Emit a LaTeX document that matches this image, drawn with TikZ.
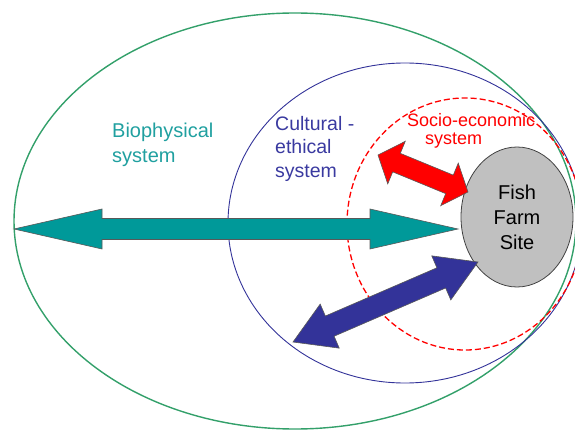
\documentclass[tikz,border=0pt]{standalone}
\usepackage{fontspec}
\setmainfont{Liberation Sans}
\usetikzlibrary{calc,shapes.geometric}

\definecolor{biogreen}{HTML}{33A06A}
\definecolor{culblue}{HTML}{333399}
\definecolor{socred}{HTML}{FF0000}
\definecolor{tealarrow}{HTML}{009999}
\definecolor{tealtext}{HTML}{20A0A0}
\definecolor{bluetext}{HTML}{3A3AA0}
\definecolor{farmgray}{HTML}{C0C0C0}

% Double-headed block arrow between two named coordinates.
% #1 start, #2 end, #3 head length, #4 head half-width, #5 shaft half-width, #6 style
\newcommand\blockarrow[6]{%
  \pgfpointdiff{\pgfpointanchor{#1}{center}}{\pgfpointanchor{#2}{center}}%
  \pgfgetlastxy{\badx}{\bady}%
  \pgfmathsetmacro\baang{atan2(\bady,\badx)}%
  \pgfmathsetmacro\balen{veclen(\badx,\bady)}%
  \pgfmathsetmacro\babase{\balen-#3}%
  \begin{scope}[shift={(#1)}, rotate=\baang]
    \draw[#6] (0pt,0pt) -- (#3pt,#4pt) -- (#3pt,#5pt) -- (\babase pt,#5pt)
      -- (\babase pt,#4pt) -- (\balen pt,0pt) -- (\babase pt,-#4pt)
      -- (\babase pt,-#5pt) -- (#3pt,-#5pt) -- (#3pt,-#4pt) -- cycle;
  \end{scope}%
}

\tikzset{
  system/.style={line width=#1},
  label/.style={inner sep=0pt, align=left},
  arrowbody/.style={fill=#1, draw=black!65, line width=0.6pt, line join=miter}
}

\begin{document}
\begin{tikzpicture}[x=1pt, y=-1pt]
  \useasboundingbox (0,0) rectangle (575,430);
  \clip (0,0) rectangle (575,430);

  % nested systems
  \draw[system=1.4pt, biogreen] (295,221) ellipse [x radius=281pt, y radius=208pt];
  \draw[system=0.9pt, culblue] (405,223) ellipse [x radius=177pt, y radius=160pt];
  \draw[system=1.3pt, socred, dash pattern=on 6pt off 3pt] (465,224) ellipse [x radius=118pt, y radius=126pt];

  % system labels
  \node[label, anchor=west, text=tealtext, font=\fontsize{20}{25}\selectfont]
    (bio) at (112,144.5) {Biophysical\\system};
  \node[label, anchor=west, text=bluetext, font=\fontsize{19.5}{23.5}\selectfont]
    (cult) at (275,148.5) {Cultural -\\ethical\\system};
  \node[label, anchor=west, text=socred, font=\fontsize{18}{18}\selectfont]
    (socio) at (407,131) {Socio-economic\\\hspace*{18pt}system};

  % the site
  \node[ellipse, fill=farmgray, draw=black!75, line width=0.8pt,
        minimum width=112pt, minimum height=140pt, inner sep=0pt,
        align=center, font=\fontsize{20}{25}\selectfont]
    (farm) at (517,217) {Fish\\Farm\\Site};

  % arrow end points
  \coordinate (tealL) at (14,229);
  \coordinate (tealR) at (458,229);
  \coordinate (redL) at (378,155);
  \coordinate (redR) at (468,192);
  \coordinate (blueL) at (293,342);
  \coordinate (blueR) at (478,262);

  % interactions
  \blockarrow{tealL}{tealR}{88}{20}{10.5}{arrowbody=tealarrow}
  \blockarrow{redL}{redR}{20}{23}{10}{arrowbody=socred}
  \blockarrow{blueL}{blueR}{40}{24}{11}{arrowbody=culblue}
\end{tikzpicture}
\end{document}
